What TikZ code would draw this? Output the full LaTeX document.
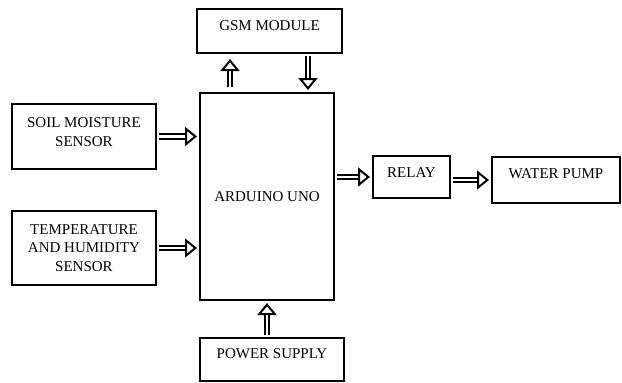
\documentclass[tikz,border=0pt]{standalone}
\usepackage{fontspec}
\setmainfont{Liberation Serif}
\usetikzlibrary{arrows.meta}
\tikzset{
	block/.style={draw,line width=2pt,inner sep=0pt,align=center,font=\fontsize{15}{18.5}\selectfont},
	dbl/.style={double,double distance=2.2pt,line width=2.1pt,shorten <=2pt,shorten >=2pt,
		-{Triangle[open,length=12pt,width=19pt,line width=2pt]}}
}
\begin{document}
\begin{tikzpicture}[x=1pt,y=-1pt]
				\useasboundingbox (0,0) rectangle (622,383);
				\node[block,minimum width=145pt,minimum height=44pt,text height=10pt,text depth=12pt] (gsm) at (269.5,31) {GSM MODULE};
				\node[block,minimum width=134pt,minimum height=207pt] (arduino) at (267,196.5) {ARDUINO UNO};
				\node[block,minimum width=144pt,minimum height=65pt,text height=29.5pt,text depth=10pt] (soil) at (84,136.5) {SOIL MOISTURE\\SENSOR};
				\node[block,minimum width=144pt,minimum height=74pt] (temp) at (84,248) {TEMPERATURE\\AND HUMIDITY\\SENSOR};
				\node[block,minimum width=77pt,minimum height=42pt,text height=10pt,text depth=10pt] (relay) at (411.5,177) {RELAY};
				\node[block,minimum width=128pt,minimum height=46pt,text height=10pt,text depth=14pt] (pump) at (556,180) {WATER PUMP};
				\node[block,minimum width=144pt,minimum height=43pt,text height=10pt,text depth=12pt] (power) at (272,359.5) {POWER SUPPLY};
				\draw[dbl] (soil.east) -- (soil.east -| arduino.west);
				\draw[dbl] (temp.east) -- (temp.east -| arduino.west);
				\draw[dbl] (arduino.east |- relay.west) -- (relay.west);
				\draw[dbl] (relay.east |- pump.west) -- (pump.west);
				\draw[dbl,shorten <=5pt,shorten >=5pt] ([xshift=-37pt]arduino.north) -- ([xshift=-37pt]arduino.north |- gsm.south);
				\draw[dbl] ([xshift=41pt]arduino.north |- gsm.south) -- ([xshift=41pt]arduino.north);
				\draw[dbl] (power.north -| arduino.south) -- (arduino.south);
\end{tikzpicture}
\end{document}
